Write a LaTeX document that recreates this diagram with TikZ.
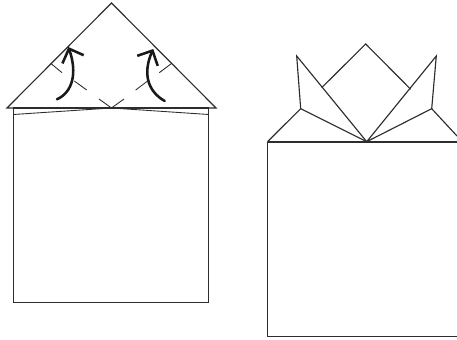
\documentclass[tikz,border=0pt]{standalone}
\usepackage{xcolor}
\usetikzlibrary{arrows.meta,bending}
\definecolor{FoldInk}{RGB}{45,45,45}
\tikzset{
  edge/.style={FoldInk, line width=0.65pt, line join=miter},
  heavy/.style={FoldInk, line width=1.3pt},
  crease/.style={FoldInk, line width=0.5pt},
  lift/.style={black!90, line width=1.45pt, line cap=round,
    -{Straight Barb[length=6.5pt, width=13pt, line width=1.45pt, flex=0.6]}}
}
\begin{document}
\begin{tikzpicture}[x=0.02cm, y=-0.02cm]
  \useasboundingbox (0,0) rectangle (457,340);
  % left figure
  \draw[edge] (7,108) -- (111.5,3) -- (216,108) -- cycle;
  \draw[edge] (13.5,108) -- (13.5,302.5) -- (208.5,302.5) -- (208.5,108);
  \draw[heavy] (13,108) -- (209,108);
  \draw[crease] (13.5,114.5) -- (111.5,108) -- (208.5,114.5);
  % creases
  \draw[crease] (50.7,63.3) -- (62,72.7);
  \draw[crease] (74.3,81) -- (86.7,90);
  \draw[crease] (99,99) -- (111.5,108) -- (124,99);
  \draw[crease] (135.7,90) -- (147,81.5);
  \draw[crease] (159.3,72.7) -- (171.5,63.5);
  % arrows
  \draw[lift] (57,99.3) .. controls (73,92) and (78,72) .. (68.3,47);
  \draw[lift] (164.7,101) .. controls (147,91) and (142,72) .. (153.3,49);
  % right figure
  \draw[edge] (267.5,141.7) -- (267.5,336.7) -- (457,336.7);
  \draw[heavy] (267.5,141.7) -- (457,141.7);
  \draw[edge] (267.5,141.7) -- (300.7,108.7) -- (296.7,56) -- (366.7,141.7);
  \draw[edge] (300.7,108.7) -- (366.7,141.7);
  \draw[edge] (321.7,87.7) -- (365.7,44) -- (410.7,89.3);
  \draw[edge] (366.7,141.7) -- (436.3,56) -- (431.7,108.7) -- (366.7,141.7);
  \draw[edge] (431.7,108.7) -- (457,136);
\end{tikzpicture}
\end{document}
